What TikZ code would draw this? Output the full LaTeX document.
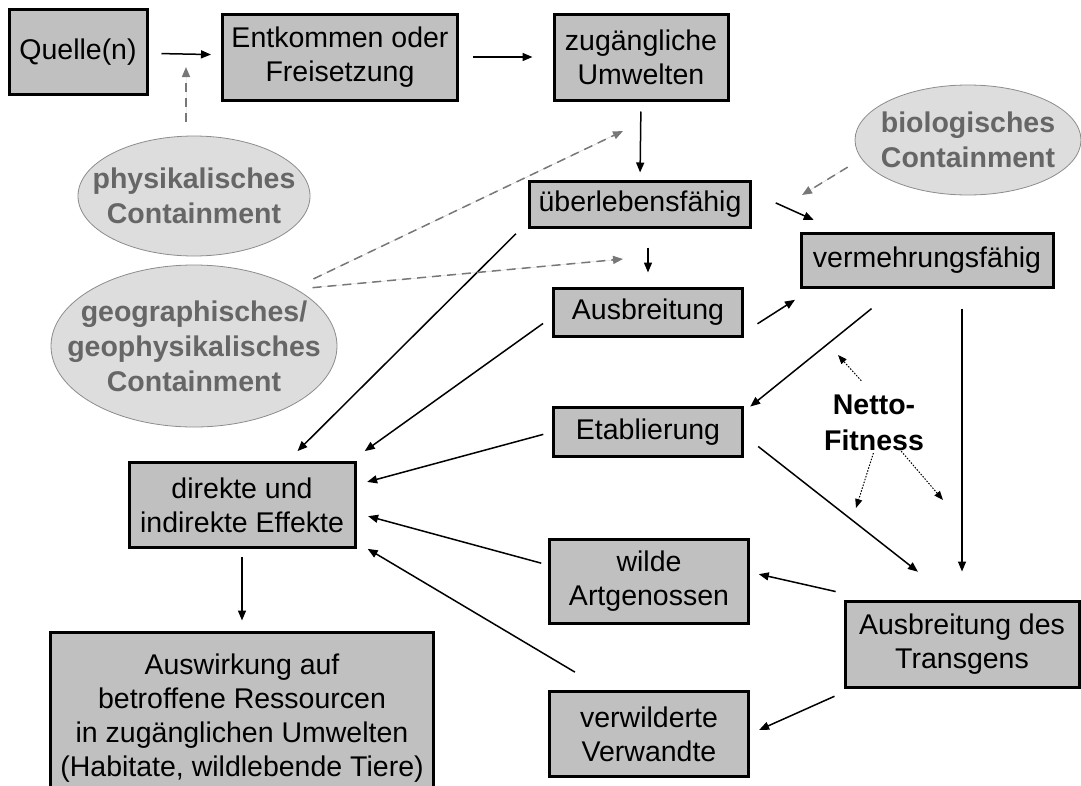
\documentclass[tikz,border=0pt]{standalone}
\usepackage{fontspec}
\setmainfont{Liberation Sans}
\usetikzlibrary{shapes.geometric,arrows.meta}
\definecolor{boxgray}{HTML}{C0C0C0}
\definecolor{ellfill}{HTML}{DDDDDD}
\definecolor{elldraw}{HTML}{8C8C8C}
\definecolor{elltext}{HTML}{666666}
\definecolor{dashgray}{HTML}{777777}

\begin{document}
\begin{tikzpicture}[x=1pt, y=-1pt]
	\tikzstyle{box} = [draw, line width=3pt, fill=boxgray, align=center, inner sep=0pt, font=\fontsize{28.5}{34}\selectfont]
	\tikzstyle{ell} = [ellipse, draw=elldraw, line width=0.8pt, fill=ellfill, text=elltext, align=center, inner xsep=-28pt, inner ysep=0pt, font=\fontsize{28.5}{35}\selectfont\bfseries]
	\tikzstyle{arr} = [-{Triangle[length=10pt, width=8pt]}, line width=1.5pt]
	\tikzstyle{dasharr} = [-{Triangle[length=10pt, width=8pt]}, line width=1.5pt, draw=dashgray, fill=dashgray, dash pattern=on 9pt off 6pt]
	\tikzstyle{dotarr} = [-{Triangle[length=9pt, width=7pt]}, line width=1pt, dash pattern=on 1.5pt off 1.5pt]
	\useasboundingbox (0,0) rectangle (1081,785);
	\clip (0,0) rectangle (1081,785);
	\node[box, minimum width=138, minimum height=85] (quelle) at (78,52) {Quelle(n)};
	\node[box, minimum width=235, minimum height=86] (entk) at (340,57) {Entkommen oder\\Freisetzung};
	\node[box, minimum width=174, minimum height=86] (zug) at (641,57) {zugängliche\\Umwelten};
	\node[box, minimum width=221, minimum height=46] (ueber) at (640,204) {überlebensfähig};
	\node[box, minimum width=252, minimum height=54] (verm) at (927,260) {vermehrungsfähig};
	\node[box, minimum width=189, minimum height=48] (ausb) at (648,312) {Ausbreitung};
	\node[box, minimum width=189, minimum height=49] (etab) at (648,432) {Etablierung};
	\node[box, minimum width=226, minimum height=85] (direkt) at (242,505) {direkte und\\indirekte Effekte};
	\node[box, minimum width=383, minimum height=172] (ausw) at (242,718) {Auswirkung auf\\betroffene Ressourcen\\in zugänglichen Umwelten\\(Habitate, wildlebende Tiere)};
	\node[box, minimum width=199, minimum height=84] (wilde) at (649,581) {wilde\\Artgenossen};
	\node[box, minimum width=199, minimum height=85] (verw) at (649,734) {verwilderte\\Verwandte};
	\node[box, minimum width=234, minimum height=86] (trans) at (962,644) {Ausbreitung des\\Transgens};
	\node[ell, minimum width=232, minimum height=120] (phys) at (194,196) {physikalisches\\Containment};
	\node[ell, minimum width=226, minimum height=110] (bio) at (968,140) {biologisches\\Containment};
	\node[ell, minimum width=286, minimum height=162] (geo) at (194,346) {geographisches/\\geophysikalisches\\Containment};
	\node[align=center, inner sep=0pt, font=\fontsize{28.5}{36}\selectfont\bfseries] (netto) at (874,423) {Netto-\\Fitness};
	\coordinate (pc) at (186,67);
	\coordinate (bt) at (802,195);
	\coordinate (g1) at (623,131);
	\coordinate (g2) at (623,259);
	\coordinate (n1) at (838,355);
	\coordinate (n2) at (856,508);
	\coordinate (n3) at (943,500);
	\draw[arr, shorten <=13pt, shorten >=10pt] (quelle) -- (entk);
	\draw[arr, shorten <=14pt, shorten >=20pt] (entk) -- (zug);
	\draw[arr, shorten <=10pt, shorten >=7pt] (zug.south) -- (ueber.north);
	\draw[arr, shorten <=26pt, shorten >=28pt] (ueber.6) -- (verm.162);
	\draw[arr, shorten <=19pt, shorten >=14pt] (ausb.north |- ueber.south) -- (ausb.north);
	\draw[arr, shorten <=17pt, shorten >=14pt] (ueber.189) -- (direkt.44);
	\draw[arr, shorten <=16pt, shorten >=21pt] (ausb.348) -- (verm.194);
	\draw[arr, shorten <=11pt, shorten >=17pt] (ausb.183) -- (direkt.22);
	\draw[arr, shorten <=9pt, shorten >=11pt] (etab.west) -- (direkt.10);
	\draw[arr, shorten <=32pt, shorten >=8pt] (verm.223) -- (etab.12);
	\draw[arr, shorten <=20pt, shorten >=28pt] (trans.north |- verm.south) -- (trans.north);
	\draw[arr, shorten <=18pt, shorten >=45pt] (etab.358) -- (trans.101);
	\draw[arr, shorten <=36pt, shorten >=9pt] (trans.154) -- (wilde.5);
	\draw[arr, shorten <=19pt, shorten >=10pt] (trans.202) -- (verw.east);
	\draw[arr, shorten <=7pt, shorten >=12pt] (wilde.171) -- (direkt.356);
	\draw[arr, shorten <=35pt, shorten >=13pt] (verw.135) -- (direkt.342);
	\draw[arr, shorten <=8pt, shorten >=10pt] (direkt.south) -- (ausw.north);
	\draw[dasharr, shorten <=14pt] (pc |- phys.north) -- (pc);
	\draw[dasharr, shorten <=16pt] (bio.190) -- (bt);
	\draw[dasharr, shorten <=21pt] (geo.30) -- (g1);
	\draw[dasharr, shorten <=16pt] (geo.29) -- (g2);
	\draw[dotarr, shorten <=19pt] (netto.north) -- (n1);
	\draw[dotarr, shorten <=2pt] (netto.south) -- (n2);
	\draw[dotarr] (netto.-46) -- (n3);
\end{tikzpicture}
\end{document}
